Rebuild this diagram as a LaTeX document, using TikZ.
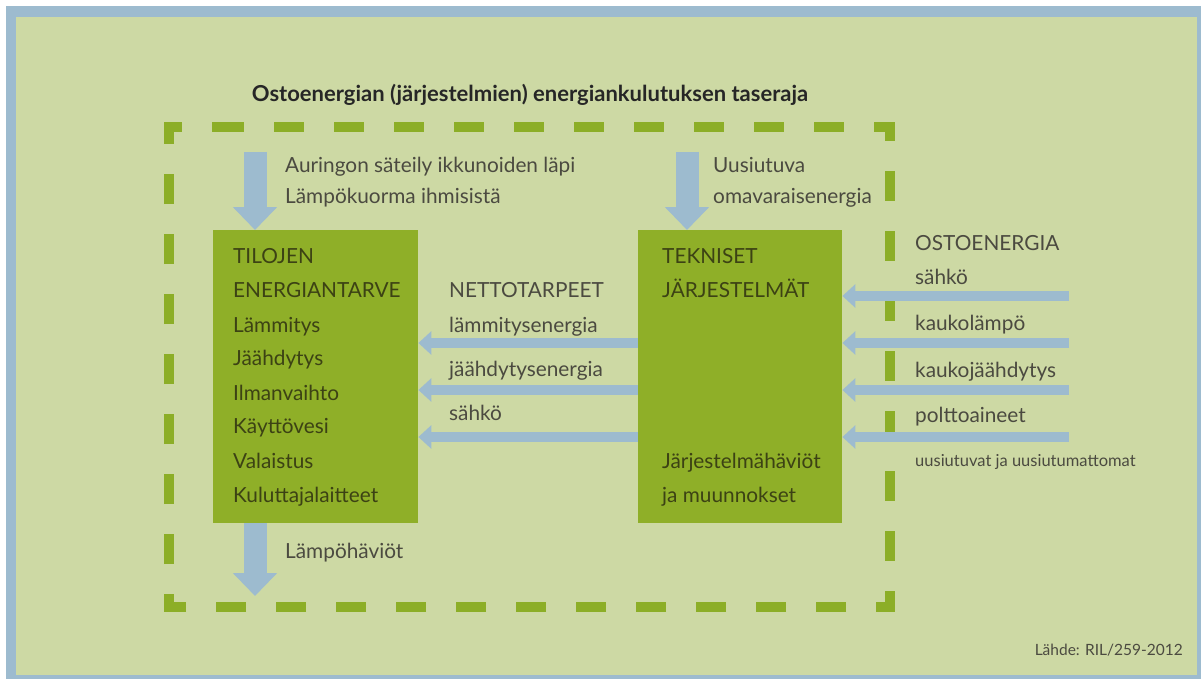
\documentclass[tikz,border=0pt]{standalone}
\usepackage{fontspec}
\setmainfont{Lato}
\usetikzlibrary{arrows.meta}
\definecolor{bgGreen}{HTML}{CDD9A4}
\definecolor{frameBlue}{HTML}{9DBBCF}
\definecolor{boxGreen}{HTML}{8FAF28}
\definecolor{dashGreen}{HTML}{8CAE27}
\definecolor{txtGray}{HTML}{4B4A40}
\definecolor{boxTxt}{HTML}{3C4214}
\begin{document}
\begin{tikzpicture}[x=1pt,y=-1pt,
  txt/.style={anchor=base west,inner sep=0pt,text=txtGray,font=\fontsize{20.8}{24}\selectfont},
  btxt/.style={anchor=base west,inner sep=0pt,text=boxTxt,font=\fontsize{20.8}{24}\selectfont},
  greenbox/.style={fill=boxGreen,draw=none,anchor=north west,inner sep=0pt},
  vflow/.style={draw=frameBlue,line width=23pt,-{Triangle[width=43pt,length=23pt]}},
  hflow/.style={draw=frameBlue,line width=10pt,-{Triangle[width=23pt,length=13pt]}},
  boundary/.style={draw=dashGreen,line width=10pt,dash pattern=on 30pt off 30pt,line join=miter}]
\useasboundingbox (0,0) rectangle (1201,679);
\fill[white] (0,0) rectangle (1201,679);
\fill[frameBlue] (6,6) rectangle (1201,679);
\fill[bgGreen] (16,17) rectangle (1197,675);

\node[anchor=base,inner sep=0pt,text=black!85,font=\bfseries\fontsize{22}{26}\selectfont] (title) at (530,102) {Ostoenergian (järjestelmien) energiankulutuksen taseraja};

\draw[boundary] (214,127) -- (890,127) -- (890,607) -- (169,607) -- (169,127) -- cycle;

\node[greenbox,minimum width=205pt,minimum height=293pt] (tilojen) at (213,230) {};
\node[greenbox,minimum width=204pt,minimum height=293pt] (tekniset) at (638,230) {};

% left box texts
\node[btxt] (t1) at (233,263) {TILOJEN};
\node[btxt] (t2) at (233,297) {ENERGIANTARVE};
\node[btxt] (t3) at (233,332) {Lämmitys};
\node[btxt] (t4) at (233,365) {Jäähdytys};
\node[btxt] (t5) at (233,400) {Ilmanvaihto};
\node[btxt] (t6) at (233,433) {Käyttövesi};
\node[btxt] (t7) at (233,468) {Valaistus};
\node[btxt] (t8) at (233,502) {Kuluttajalaitteet};

% right box texts
\node[btxt] (k1) at (662,263) {TEKNISET};
\node[btxt] (k2) at (662,297) {JÄRJESTELMÄT};
\node[btxt] (k3) at (662,468) {Järjestelmähäviöt};
\node[btxt] (k4) at (662,502) {ja muunnokset};

% top left
\coordinate (sunsrc) at (255,152);
\draw[vflow] (sunsrc) -- (sunsrc |- tilojen.north);
\node[txt] (sun1) at (285,172) {Auringon säteily ikkunoiden läpi};
\node[txt] (sun2) at (285,204) {Lämpökuorma ihmisistä};

% top right
\coordinate (rensrc) at (687,152);
\draw[vflow] (rensrc) -- (rensrc |- tekniset.north);
\node[txt] (ren1) at (713,172) {Uusiutuva};
\node[txt] (ren2) at (713,204) {omavaraisenergia};

% bottom
\coordinate (lossend) at (255,596);
\draw[vflow] (tilojen.south -| lossend) -- (lossend);
\node[txt] (loss) at (285,558) {Lämpöhäviöt};

% net demands
\node[txt] (n0) at (449,297) {NETTOTARPEET};
\node[txt] (n1) at (449,332) {lämmitysenergia};
\node[txt] (n2) at (449,376) {jäähdytysenergia};
\node[txt] (n3) at (449,420) {sähkö};
\coordinate (ny1) at (0,343);
\coordinate (ny2) at (0,390);
\coordinate (ny3) at (0,437);
\draw[hflow] (tekniset.west |- ny1) -- (tilojen.east |- ny1);
\draw[hflow] (tekniset.west |- ny2) -- (tilojen.east |- ny2);
\draw[hflow] (tekniset.west |- ny3) -- (tilojen.east |- ny3);

% purchased energy
\node[txt] (o0) at (915,250) {OSTOENERGIA};
\node[txt] (o1) at (915,284) {sähkö};
\node[txt] (o2) at (915,330) {kaukolämpö};
\node[txt] (o3) at (915,377) {kaukojäähdytys};
\node[txt] (o4) at (915,422) {polttoaineet};
\node[txt,font=\fontsize{16.5}{19}\selectfont] (o5) at (915,466) {uusiutuvat ja uusiutumattomat};
\coordinate (os1) at (1069,296);
\coordinate (os2) at (1069,343);
\coordinate (os3) at (1069,390);
\coordinate (os4) at (1069,437);
\draw[hflow] (os1) -- (tekniset.east |- os1);
\draw[hflow] (os2) -- (tekniset.east |- os2);
\draw[hflow] (os3) -- (tekniset.east |- os3);
\draw[hflow] (os4) -- (tekniset.east |- os4);

\node[anchor=base east,inner sep=0pt,text=txtGray,font=\fontsize{15.5}{18}\selectfont] (src) at (1183,655) {Lähde: RIL/259-2012};
\end{tikzpicture}
\end{document}
